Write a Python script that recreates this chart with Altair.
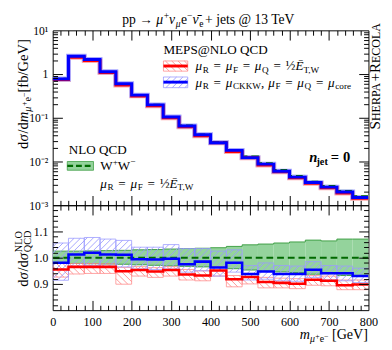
import math
import altair as alt
import pandas as pd

FONT = "Liberation Serif"

# ---------------- data ----------------
bin_edges = [0, 40, 80, 120, 160, 200, 240, 280, 320, 360, 400,
             440, 480, 520, 560, 600, 640, 680, 720, 760, 800]
# NLO QCD W+W- cross section [fb/GeV]
nlo_xsec = [0.785, 2.52, 2.11, 1.117, 0.593, 0.332, 0.199, 0.105, 0.0667, 0.0416,
            0.0280, 0.01835, 0.01311, 0.00919, 0.0064, 0.00469, 0.00346, 0.00276, 0.00213, 0.00161]
nlo_hi = [1.025, 1.025, 1.026, 1.027, 1.028, 1.030, 1.031, 1.033, 1.035, 1.036,
          1.038, 1.043, 1.049, 1.052, 1.056, 1.060, 1.067, 1.064, 1.071, 1.071]
nlo_lo = [0.979, 0.978, 0.977, 0.976, 0.975, 0.973, 0.971, 0.969, 0.967, 0.965,
          0.963, 0.958, 0.953, 0.949, 0.946, 0.943, 0.937, 0.939, 0.932, 0.930]
# MEPS@NLO, mu = 1/2 E_T,W  (red), ratio to NLO
etw_ratio = [0.955, 0.965, 0.965, 0.965, 0.948, 0.953, 0.947, 0.953, 0.936, 0.932,
             0.951, 0.918, 0.926, 0.907, 0.904, 0.901, 0.916, 0.912, 0.895, 0.898]
etw_hi = [0.981, 0.978, 0.978, 0.977, 0.963, 0.966, 0.962, 0.966, 0.955, 0.950,
          0.965, 0.932, 0.940, 0.925, 0.922, 0.920, 0.932, 0.930, 0.915, 0.915]
etw_lo = [0.926, 0.938, 0.940, 0.940, 0.899, 0.930, 0.925, 0.930, 0.915, 0.912,
          0.930, 0.889, 0.900, 0.885, 0.885, 0.882, 0.895, 0.893, 0.878, 0.878]
# MEPS@NLO, mu = mu_CKKW (blue), ratio to NLO
ckkw_ratio = [0.981, 1.012, 1.019, 1.012, 1.011, 0.994, 0.993, 0.996, 0.975, 0.985,
              0.963, 0.981, 0.938, 0.947, 0.938, 0.938, 0.954, 0.941, 0.941, 0.930]
ckkw_hi = [1.056, 1.074, 1.077, 1.071, 1.066, 1.040, 1.040, 1.050, 1.035, 1.035,
           1.025, 1.030, 0.970, 0.980, 0.970, 0.968, 0.985, 0.970, 0.968, 0.960]
ckkw_lo = [0.914, 0.968, 0.970, 0.968, 0.965, 0.957, 0.955, 0.957, 0.945, 0.950,
           0.930, 0.945, 0.915, 0.918, 0.912, 0.910, 0.925, 0.915, 0.912, 0.905]

x_label_values = [0, 100, 200, 300, 400, 500, 600, 700, 800]
x_major = [100, 200, 300, 400, 500, 600, 700]
x_minor = [v for v in range(20, 800, 20) if v % 100]
logy_labels = [0.001, 0.01, 0.1, 1, 10]
logy_major = [0.01, 0.1, 1]
logy_minor = [k * 10.0 ** d for d in range(-3, 1) for k in range(2, 10)]
r_labels = [0.9, 1.0, 1.1]
r_major = [0.9, 1.0, 1.1]
r_minor = [round(0.8 + 0.02 * i, 2) for i in range(1, 20) if i % 5]

# ---------------- geometry ----------------
W, H1, H2 = 325, 180, 108
RMIN, RMAX = 0.8, 1.2
xs = alt.Scale(domain=[0, 800], nice=False, zero=False)
ys_top = alt.Scale(type="log", domain=[1e-3, 10], nice=False)
ys_bot = alt.Scale(domain=[RMIN, RMAX], nice=False, zero=False)

GREEN_FILL = "#94d39c"
GREEN_EDGE = "#3f9f45"
GREEN_DASH = "#006a00"
RED = "#ff0000"
BLUE = "#0000ff"
RED_HATCH = "#ff8a8a"
BLUE_HATCH = "#9a9aff"


def step_df(vals):
    return pd.DataFrame({"x": bin_edges, "y": list(vals) + [vals[-1]]})


def bins_df(lo, hi):
    return pd.DataFrame({"x": bin_edges[:-1], "x2": bin_edges[1:], "lo": lo, "hi": hi})


def step_line(vals, ys, color, width, dash=None):
    kw = dict(interpolate="step-after", color=color, strokeWidth=width, clip=True)
    if dash:
        kw["strokeDash"] = dash
    return alt.Chart(step_df(vals)).mark_line(**kw).encode(
        x=alt.X("x:Q", scale=xs, axis=None), y=alt.Y("y:Q", scale=ys, axis=None))


def band(lo, hi, ys, **kw):
    return alt.Chart(bins_df(lo, hi)).mark_rect(clip=True, **kw).encode(
        x=alt.X("x:Q", scale=xs, axis=None), x2="x2:Q",
        y=alt.Y("lo:Q", scale=ys, axis=None), y2="hi:Q")


def hatch_segments(x0, x1, y0, y1, direction, spacing):
    segs = []
    if direction == "/":
        cmin, cmax = x0 - y1, x1 - y0
        for k in range(math.ceil(cmin / spacing), math.floor(cmax / spacing) + 1):
            c = k * spacing
            a, b = max(x0, y0 + c), min(x1, y1 + c)
            if b - a > 0.2:
                segs.append((a, a - c, b, b - c))
    else:
        cmin, cmax = x0 + y0, x1 + y1
        for k in range(math.ceil(cmin / spacing), math.floor(cmax / spacing) + 1):
            c = k * spacing
            a, b = max(x0, c - y1), min(x1, c - y0)
            if b - a > 0.2:
                segs.append((a, c - a, b, c - b))
    return segs


KX = W / 800.0
KY = H2 / (RMAX - RMIN)


def hatch_band(lo, hi, direction, color):
    rows = []
    for i in range(len(lo)):
        for ax, ay, bx, by in hatch_segments(bin_edges[i] * KX, bin_edges[i + 1] * KX,
                                             (lo[i] - RMIN) * KY, (hi[i] - RMIN) * KY,
                                             direction, 6.5):
            rows.append(dict(x=ax / KX, y=ay / KY + RMIN, x2=bx / KX, y2=by / KY + RMIN))
    return alt.Chart(pd.DataFrame(rows)).mark_rule(color=color, strokeWidth=0.9, clip=True).encode(
        x=alt.X("x:Q", scale=xs, axis=None), y=alt.Y("y:Q", scale=ys_bot, axis=None),
        x2="x2:Q", y2="y2:Q")


def axis_layer(ys, ydom, xaxis, yaxis):
    df = pd.DataFrame({"x": [0, 800], "y": ydom})
    return alt.Chart(df).mark_point(opacity=0, size=1).encode(
        x=alt.X("x:Q", scale=xs, axis=xaxis), y=alt.Y("y:Q", scale=ys, axis=yaxis))


def tick_axis(orient, values, size):
    return alt.Axis(orient=orient, values=values, labels=False, ticks=True, tickSize=size,
                    offset=-size, domain=False, grid=False, title=None, tickColor="black",
                    tickWidth=1, minExtent=0, maxExtent=size, zindex=2)


def axis_layers(ys, ydom, ymaj, ymin, xlabels, ylabel_axis):
    L = [
        axis_layer(ys, ydom, tick_axis("top", x_major, 10), tick_axis("left", ymaj, 10)),
        axis_layer(ys, ydom, tick_axis("top", x_minor, 5), tick_axis("left", ymin, 5)),
        axis_layer(ys, ydom, tick_axis("bottom", x_major, 10), tick_axis("right", ymaj, 10)),
        axis_layer(ys, ydom, tick_axis("bottom", x_minor, 5), tick_axis("right", ymin, 5)),
    ]
    xlab = None
    if xlabels:
        xlab = alt.Axis(orient="bottom", values=x_label_values, format="d", ticks=False,
                        domain=False, grid=False, title=None, labelPadding=6, labelFlush=False,
                        labelFontSize=12.5, labelFont=FONT, labelColor="black", zindex=2)
    L.append(axis_layer(ys, ydom, xlab, ylabel_axis))
    return L


# ---------------- rich text (sub/superscripts as separate text pieces) ----------------
CW = {" ": 0.25, ",": 0.25, ".": 0.25, "/": 0.278, "=": 0.564, "+": 0.564, "\u2212": 0.564,
      "@": 0.921, "[": 0.333, "]": 0.333, "\u2192": 1.0, "\u00bd": 0.75, "\u03bc": 0.55,
      "\u03bd": 0.5, "\u03c3": 0.55, "\u0304": 0.0, "\u0112": 0.611,
      "a": .444, "b": .5, "c": .444, "d": .5, "e": .444, "f": .333, "g": .5, "h": .5, "i": .278,
      "j": .278, "k": .5, "l": .278, "m": .722, "n": .5, "o": .5, "p": .5, "q": .5, "r": .39,
      "s": .389, "t": .278, "u": .5, "v": .5, "w": .722, "x": .5, "y": .5, "z": .444,
      "A": .722, "B": .667, "C": .667, "D": .722, "E": .611, "F": .556, "G": .722, "H": .722,
      "I": .333, "J": .389, "K": .722, "L": .611, "M": .889, "N": .722, "O": .722, "P": .556,
      "Q": .722, "R": .667, "S": .556, "T": .611, "U": .722, "V": .722, "W": .944, "X": .722,
      "Y": .722, "Z": .611}


def rich(segs, x, y, size, align="left", vertical=False):
    items, pos = [], 0.0
    for text, st in segs:
        f = set(st.split())
        if "g" in f:
            pos += float(text) * size
            continue
        fac, dy = 1.0, 0.0
        if "sub" in f:
            fac, dy = 0.7, 0.2
        if "sup" in f:
            fac, dy = 0.7, -0.38
        if "ss" in f:
            fac, dy = 0.55, -0.05
        if "sc" in f:
            fac, dy = 0.8, 0.0
        fs = size * fac
        items.append((pos, dy * size, text, fs, "i" in f, "b" in f))
        if "noadv" not in f:
            pos += sum(CW.get(ch, 0.5) for ch in text) * fs
    start = {"left": 0.0, "center": -pos / 2, "right": -pos}[align]
    rows = []
    for p, off, text, fs, it, bd in items:
        if vertical:
            rows.append(dict(x=x + off, y=y - (start + p), text=text, size=fs, angle=270, it=it, bd=bd))
        else:
            rows.append(dict(x=x + start + p, y=y + off, text=text, size=fs, angle=0, it=it, bd=bd))
    return rows


def text_layers(rows):
    df = pd.DataFrame(rows)
    out = []
    for (it, bd), sub in df.groupby(["it", "bd"]):
        sub = sub.drop(columns=["it", "bd"])
        out.append(alt.Chart(sub).mark_text(
            align="left", baseline="alphabetic", font=FONT, color="black",
            fontStyle="italic" if it else "normal", fontWeight="bold" if bd else "normal").encode(
            x=alt.X("x:Q", scale=None, axis=None), y=alt.Y("y:Q", scale=None, axis=None),
            text="text:N", size=alt.Size("size:Q", scale=None, legend=None),
            angle=alt.Angle("angle:Q", scale=None)))
    return out


def px_rules(rows, color, width, dash=None):
    kw = dict(color=color, strokeWidth=width)
    if dash:
        kw["strokeDash"] = dash
    return alt.Chart(pd.DataFrame(rows)).mark_rule(**kw).encode(
        x=alt.X("x:Q", scale=None, axis=None), y=alt.Y("y:Q", scale=None, axis=None),
        x2="x2:Q", y2="y2:Q")


def px_rect(x0, x1, y0, y1, **kw):
    return alt.Chart(pd.DataFrame([dict(x=x0, x2=x1, y=y0, y2=y1)])).mark_rect(**kw).encode(
        x=alt.X("x:Q", scale=None, axis=None), y=alt.Y("y:Q", scale=None, axis=None),
        x2="x2:Q", y2="y2:Q")


def px_hatch(x0, x1, y0, y1, direction, color):
    rows = [dict(x=a, y=-ay, x2=b, y2=-by)
            for a, ay, b, by in hatch_segments(x0, x1, -y1, -y0, direction, 6.5)]
    return px_rules(rows, color, 0.9)


EQ = [("0.36", "g"), ("=", ""), ("0.36", "g")]

# ---------------- top panel ----------------
nlo_top_lo = [a * b for a, b in zip(nlo_xsec, nlo_lo)]
nlo_top_hi = [a * b for a, b in zip(nlo_xsec, nlo_hi)]
etw_top = [a * b for a, b in zip(nlo_xsec, etw_ratio)]
ckkw_top = [a * b for a, b in zip(nlo_xsec, ckkw_ratio)]

top_text = []
top_text += rich([("pp \u2192 ", ""), ("\u03bc", "i"), ("+", "sup"), ("\u03bd", "i"), ("\u03bc", "i sub"),
                  ("e", ""), ("\u2212", "sup"), ("\u03bd\u0304", "i"), ("e", "sub"), ("0.12", "g"),
                  (" + jets @ 13 TeV", "")], 162.5, -6.5, 14, align="center")
top_text += rich([("d", ""), ("\u03c3", "i"), ("/d", ""), ("m", "i"), ("\u03bc", "i sub"), ("+", "ss"),
                  ("e", "sub"), ("\u2212", "ss"), (" [fb/GeV]", "")], -25.5, 122, 15, vertical=True)
top_text += rich([("MEPS@NLO QCD", "")], 114, 24.5, 13.5)
top_text += rich([("\u03bc", "i"), ("R", "sub")] + EQ + [("\u03bc", "i"), ("F", "sub")] + EQ +
                 [("\u03bc", "i"), ("Q", "sub")] + EQ + [("\u00bd", ""), ("\u0112", "i"), ("T,W", "sub")],
                 147, 41, 13.5)
top_text += rich([("\u03bc", "i"), ("R", "sub")] + EQ + [("\u03bc", "i"), ("CKKW", "sub"), (",", ""),
                  ("0.3", "g"), ("\u03bc", "i"), ("F", "sub")] + EQ + [("\u03bc", "i"), ("Q", "sub")] + EQ +
                 [("\u03bc", "i"), ("core", "sub")], 147, 58, 13.5)
top_text += rich([("NLO QCD", "")], 16.5, 127.5, 13.5)
top_text += rich([("W", ""), ("+", "sup"), ("W", ""), ("\u2212", "sup")], 49, 144, 13.5)
top_text += rich([("\u03bc", "i"), ("R", "sub")] + EQ + [("\u03bc", "i"), ("F", "sub")] + EQ +
                 [("\u00bd", ""), ("\u0112", "i"), ("T,W", "sub")], 49, 162, 13.5)
top_text += rich([("n", "b i"), ("jet", "b sub"), ("0.28", "g"), ("=", "b"), ("0.28", "g"), ("0", "b")],
                 264, 136, 15)
top_text += rich([("S", ""), ("HERPA", "sc"), ("+", ""), ("R", ""), ("ECOLA", "sc")], 337, 102, 15.5,
                 vertical=True)

top_layers = [
    band(nlo_top_lo, nlo_top_hi, ys_top, color=GREEN_FILL, opacity=0.8),
    step_line(etw_top, ys_top, "#ffa8a8", 5),
    step_line(ckkw_top, ys_top, "#a8a8ff", 5),
    step_line(nlo_xsec, ys_top, GREEN_DASH, 2, dash=[7, 4]),
    step_line(etw_top, ys_top, RED, 3),
    step_line(ckkw_top, ys_top, BLUE, 3),
]
top_layers += axis_layers(ys_top, [1e-3, 10], logy_major, logy_minor, False,
                          alt.Axis(orient="left", values=logy_labels, ticks=False, domain=False,
                                   grid=False, title=None, labelPadding=5, labelFontSize=12,
                                   labelFont=FONT, labelColor="black",
                                   labelExpr="datum.value > 5 ? '10\u00b9' : datum.value > 0.5 ? '1' : "
                                             "datum.value > 0.05 ? '10\u207b\u00b9' : datum.value > 0.005 ? "
                                             "'10\u207b\u00b2' : '10\u207b\u00b3'"))
# legend graphics
top_layers += [
    px_hatch(114, 139, 31.5, 42, "\\", RED_HATCH),
    px_rect(114, 139, 31.5, 42, fillOpacity=0, stroke=RED_HATCH, strokeWidth=0.8),
    px_rules([dict(x=114, y=36.7, x2=139, y2=36.7)], RED, 3),
    px_hatch(114, 139, 48, 59, "/", BLUE_HATCH),
    px_rect(114, 139, 48, 59, fillOpacity=0, stroke=BLUE_HATCH, strokeWidth=0.8),
    px_rules([dict(x=114, y=53.3, x2=139, y2=53.3)], BLUE, 3),
    px_rect(15, 42, 135, 144, color=GREEN_FILL, stroke=GREEN_EDGE, strokeWidth=0.8),
    px_rules([dict(x=15, y=139.5, x2=42, y2=139.5)], GREEN_DASH, 2.5, dash=[6, 3]),
    px_rect(-45, -44, -17, -16, opacity=0),
]
top_layers += text_layers(top_text)

top = alt.layer(*top_layers).resolve_axis(x="independent", y="independent").properties(width=W, height=H1)

# ---------------- ratio panel ----------------
bot_text = []
bot_text += rich([("d", ""), ("\u03c3", "i"), ("/d", ""), ("\u03c3", "i"), ("NLO", "sup noadv"),
                  ("QCD", "sub")], -25.5, 84, 15, vertical=True)
bot_text += rich([("m", "i"), ("\u03bc", "i sub"), ("+", "ss"), ("e", "sub"), ("\u2212", "ss"),
                  ("0.25", "g"), ("[GeV]", "")], 324.5, 138, 14.5, align="right")

ones = [1.0] * len(nlo_xsec)
bot_layers = [
    band(nlo_lo, nlo_hi, ys_bot, color=GREEN_FILL),
    step_line(nlo_hi, ys_bot, GREEN_EDGE, 1),
    step_line(nlo_lo, ys_bot, GREEN_EDGE, 1),
    hatch_band(etw_lo, etw_hi, "\\", RED_HATCH),
    band(etw_lo, etw_hi, ys_bot, fillOpacity=0, stroke=RED_HATCH, strokeWidth=0.8),
    hatch_band(ckkw_lo, ckkw_hi, "/", BLUE_HATCH),
    band(ckkw_lo, ckkw_hi, ys_bot, fillOpacity=0, stroke=BLUE_HATCH, strokeWidth=0.8),
    step_line(ones, ys_bot, GREEN_DASH, 2, dash=[7, 4]),
    step_line(etw_ratio, ys_bot, RED, 2.6),
    step_line(ckkw_ratio, ys_bot, BLUE, 2.6),
]
bot_layers += axis_layers(ys_bot, [RMIN, RMAX], r_major, r_minor, True,
                          alt.Axis(orient="left", values=r_labels, format=".1f", ticks=False,
                                   domain=False, grid=False, title=None, labelPadding=5,
                                   labelFontSize=12, labelFont=FONT, labelColor="black"))
bot_layers += [px_rect(-45, -44, 10, 11, opacity=0)]
bot_layers += text_layers(bot_text)

bottom = alt.layer(*bot_layers).resolve_axis(x="independent", y="independent").properties(width=W, height=H2)

chart = alt.vconcat(top, bottom, spacing=0, bounds="flush").properties(
    padding={"top": -3, "left": 0, "right": 0, "bottom": 0}, background="white"
).configure_view(stroke="black", strokeWidth=1).configure_axis(labelFont=FONT)

chart.save("out.html", embed_options={"renderer": "svg", "actions": False})
